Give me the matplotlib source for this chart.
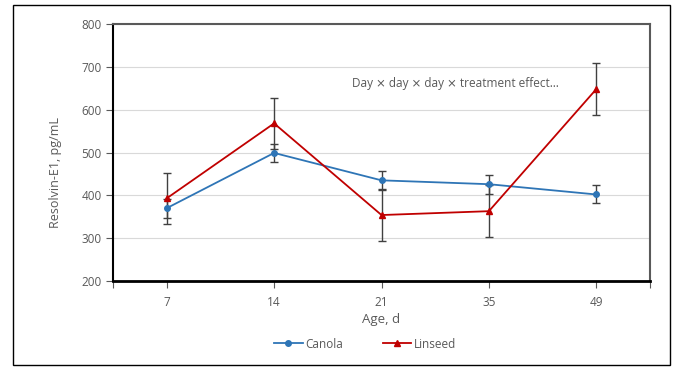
import matplotlib.pyplot as plt
from matplotlib.patches import Rectangle
from matplotlib.lines import Line2D

ages = ['7', '14', '21', '35', '49']
canola = [370, 499, 435, 426, 402]
canola_err = [22, 22, 22, 22, 21]
linseed = [393, 568, 354, 363, 648]
linseed_err = [60, 60, 60, 60, 60]
note = 'Day \u2a2f day \u2a2f day \u2a2f treatment effect\u2026'

plt.rcParams['font.family'] = ['Open Sans', 'DejaVu Sans']
gray = '#595959'

W, H = 675, 367
fig = plt.figure(figsize=(W / 100, H / 100), dpi=100)
ax = fig.add_axes([113 / W, 1 - 281 / H, (650 - 113) / W, (281 - 24) / H])

x = list(range(len(ages)))
ax.errorbar(x, canola, yerr=canola_err, color='#2E75B6', lw=1.3, marker='o', ms=4,
            ecolor='#404040', elinewidth=1, capsize=3, capthick=1, zorder=3)
ax.errorbar(x, linseed, yerr=linseed_err, color='#C00000', lw=1.3, marker='^', ms=5,
            ecolor='#404040', elinewidth=1, capsize=3, capthick=1, zorder=3)

ax.set_xlim(-0.5, len(ages) - 0.5)
ax.set_ylim(200, 800)
ax.set_yticks(range(200, 801, 100))
ax.set_xticks(x)
ax.set_xticklabels(ages)
ax.set_xticks([-0.5, len(ages) - 0.5], minor=True)
ax.grid(axis='y', color='#d9d9d9', lw=0.8, zorder=0)
ax.set_axisbelow(True)

ax.tick_params(axis='both', colors=gray, labelsize=8.5, length=5, width=0.8)
ax.tick_params(axis='x', which='minor', colors=gray, length=5, width=0.8)
ax.tick_params(axis='y', pad=3)
ax.tick_params(axis='x', pad=6)

ax.spines['bottom'].set_color('black')
ax.spines['bottom'].set_linewidth(2)
ax.spines['left'].set_color('black')
ax.spines['left'].set_linewidth(1.5)
ax.spines['top'].set_color('#595959')
ax.spines['top'].set_linewidth(1.5)
ax.spines['right'].set_color('#595959')
ax.spines['right'].set_linewidth(1.5)

ax.text(352 / W, 1 - 83 / H, note, transform=fig.transFigure, fontsize=8.5,
        color=gray, va='center', ha='left')

fig.text(381 / W, 1 - 319 / H, 'Age, d', fontsize=9.5, color=gray, ha='center', va='center')
fig.text(56 / W, 1 - 172 / H, 'Resolvin-E1, pg/mL', fontsize=9, color=gray,
         rotation=90, ha='center', va='center')

handles = [Line2D([], [], color='#2E75B6', marker='o', ms=4, lw=1.3),
           Line2D([], [], color='#C00000', marker='^', ms=5, lw=1.3)]
leg = fig.legend(handles, ['Canola', 'Linseed'], loc='center', ncol=2,
                 bbox_to_anchor=(365 / W, 1 - 344 / H), frameon=False,
                 fontsize=8.5, handlelength=2.4, handletextpad=0.2, columnspacing=3.4)
for t in leg.get_texts():
    t.set_color(gray)

fig.patches.append(Rectangle((13 / W, 1 - 365 / H), 657 / W, 360 / H,
                             transform=fig.transFigure, fill=False,
                             edgecolor='black', lw=1))

fig.savefig('out.png', dpi=100)
